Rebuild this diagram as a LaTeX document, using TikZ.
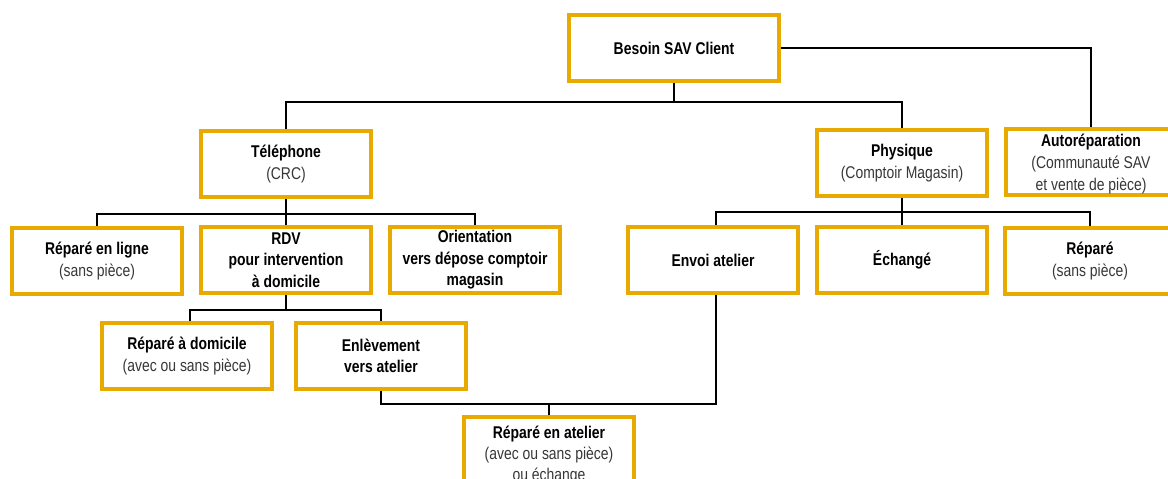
\documentclass[tikz,border=0pt]{standalone}
\usepackage{fontspec}
\setmainfont[FakeStretch=0.82]{Liberation Sans}
\definecolor{gold}{RGB}{232,169,0}
\definecolor{subgray}{RGB}{55,55,55}
\begin{document}
\begin{tikzpicture}[x=1pt,y=-1pt,
  box/.style={draw=gold,line width=3.6pt,fill=white,minimum width=170pt,minimum height=66pt,
    align=center,inner sep=2pt,font=\fontsize{17}{21.5}\selectfont},
  conn/.style={draw=black,line width=2.6pt}]
\useasboundingbox (0,0) rectangle (1168,479);
\newcommand{\sub}[1]{{\fontseries{m}\selectfont\color{subgray}#1}}
\node[box,minimum width=210pt] (besoin) at (674,48) {\bfseries Besoin SAV Client};
\node[box] (tel) at (286,164) {\bfseries Téléphone\\\sub{(CRC)}};
\node[box] (phys) at (902,163) {\bfseries Physique\\\sub{(Comptoir Magasin)}};
\node[box] (auto) at (1091,162) {};
\node[align=center,inner sep=0pt,font=\fontsize{17}{22}\selectfont] (autotext) at ([yshift=-2pt]auto.center) {\bfseries Autoréparation\\\sub{(Communauté SAV}\\\sub{et vente de pièce)}};
\node[box] (ligne) at (97,261) {\bfseries Réparé en ligne\\\sub{(sans pièce)}};
\node[box] (rdv) at (286,260) {\bfseries RDV\\\bfseries pour intervention\\\bfseries à domicile};
\node[box] (orient) at (475,260) {\bfseries Orientation\\\bfseries vers dépose comptoir\\\bfseries magasin};
\node[box] (envoi) at (713,260) {\bfseries Envoi atelier};
\node[box] (echange) at (902,260) {\bfseries Échangé};
\node[box] (repare) at (1090,261) {\bfseries Réparé\\\sub{(sans pièce)}};
\node[box] (domicile) at (187,356) {\bfseries Réparé à domicile\\\sub{(avec ou sans pièce)}};
\node[box] (enlev) at (381,356) {\bfseries Enlèvement\\\bfseries vers atelier};
\node[box,anchor=north,minimum height=76pt,font=\fontsize{17}{21}\selectfont] (atelier) at (549,415) {\bfseries Réparé en atelier\\\sub{(avec ou sans pièce)}\\\sub{ou échange}};
\coordinate (b1) at (674,102);
\coordinate (b2) at (286,214);
\coordinate (b3) at (902,212);
\coordinate (b4) at (286,310);
\coordinate (b5) at (549,404);
\path[conn] (besoin.south) -- (b1);
\path[conn] (tel.north) |- (b1) -| (phys.north);
\path[conn] (besoin.east) -| (auto.north);
\path[conn] (tel.south) -- (b2);
\path[conn] (ligne.north) |- (b2) -| (orient.north);
\path[conn] (b2) -- (rdv.north);
\path[conn] (phys.south) -- (b3);
\path[conn] ([xshift=3pt]envoi.north) |- (b3) -| (repare.north);
\path[conn] (b3) -- (echange.north);
\path[conn] (rdv.south) -- (b4);
\path[conn] ([xshift=3pt]domicile.north) |- (b4) -| (enlev.north);
\path[conn] (enlev.south) |- (b5) -| ([xshift=3pt]envoi.south);
\path[conn] (b5) -- (atelier.north);
\end{tikzpicture}
\end{document}
